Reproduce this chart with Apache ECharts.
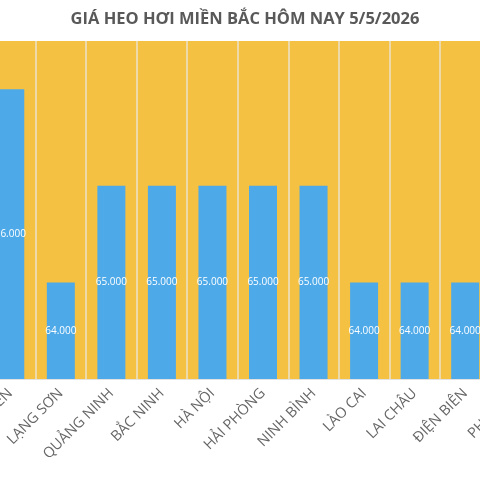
<!DOCTYPE html>
<html>
<head>
<meta charset="utf-8">
<script src="https://cdn.jsdelivr.net/npm/echarts@6/dist/echarts.min.js"></script>
<style>
  html, body { margin: 0; padding: 0; background: #fff; overflow: hidden; width: 480px; height: 480px; }
  /* chart rong hon khung, bi cat hai ben nhu anh goc */
  #chart { position: absolute; left: -20px; top: 0; width: 600px; height: 480px; }
</style>
</head>
<body>
<div id="chart"></div>
<script>
// gia heo hoi theo tinh (dong/kg)
const provinces = ['THÁI NGUYÊN', 'LẠNG SƠN', 'QUẢNG NINH', 'BẮC NINH', 'HÀ NỘI', 'HẢI PHÒNG',
  'NINH BÌNH', 'LÀO CAI', 'LAI CHÂU', 'ĐIỆN BIÊN', 'PHÚ THỌ']
const prices = [66000, 64000, 65000, 65000, 65000, 65000, 65000, 64000, 64000, 64000, 64000]

const chart = echarts.init(document.getElementById('chart'))

chart.setOption({
  animation: false,
  textStyle: { fontFamily: 'Open Sans' },
  title: {
    text: 'GIÁ HEO HƠI MIỀN BẮC HÔM NAY 5/5/2026',
    left: 260,
    textAlign: 'center',
    top: 6,
    textStyle: {
      color: '#595959',
      fontSize: 16.5,
      fontWeight: 'bold',
      fontFamily: 'Open Sans'
    }
  },
  grid: {
    show: true,
    left: 5,
    right: 39,
    top: 41,
    bottom: 101,
    outerBoundsMode: 'none',
    containLabel: false,
    backgroundColor: '#F4C142',
    borderWidth: 0
  },
  xAxis: {
    type: 'category',
    data: provinces,
    axisTick: { show: false },
    axisLine: { lineStyle: { color: '#e2e2e2', width: 1 } },
    splitLine: {
      show: true,
      lineStyle: { color: 'rgba(235,228,210,0.95)', width: 1.5 }
    },
    axisLabel: {
      interval: 0,
      rotate: 45,
      margin: 12,
      color: '#666',
      fontSize: 14.5,
      fontFamily: 'Open Sans'
    }
  },
  yAxis: {
    type: 'value',
    min: 63000,
    max: 66500,
    show: false,
    splitLine: { show: false }
  },
  series: [{
    type: 'bar',
    data: prices,
    barWidth: 28,
    itemStyle: { color: '#4DA9E8' },
    label: {
      show: true,
      position: 'inside',
      color: '#fff',
      fontSize: 10,
      formatter: function (p) {
        return p.value.toLocaleString('de-DE')
      }
    }
  }]
})
</script>
</body>
</html>
